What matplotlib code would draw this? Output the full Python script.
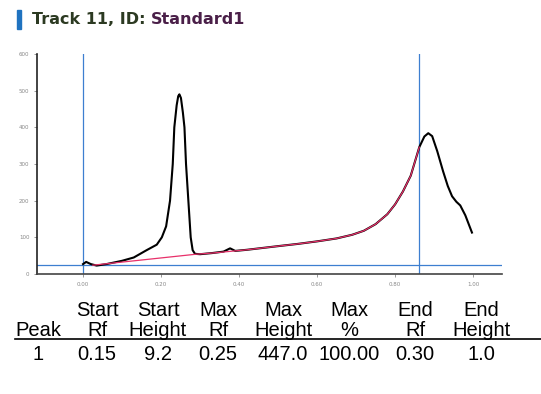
import numpy as np
import matplotlib
matplotlib.use("Agg")
import matplotlib.pyplot as plt
from matplotlib.patches import Rectangle
from matplotlib.lines import Line2D

# densitometer trace (Rf vs height)
rf = [0.00, 0.008, 0.02, 0.035, 0.06, 0.10, 0.13, 0.163, 0.189, 0.202, 0.213, 0.223,
      0.230, 0.234, 0.240, 0.244, 0.247, 0.251, 0.256, 0.260, 0.264, 0.270, 0.276,
      0.281, 0.287, 0.30, 0.33, 0.36, 0.377, 0.39, 0.42, 0.46, 0.50, 0.55, 0.60,
      0.65, 0.69, 0.72, 0.75, 0.78, 0.80, 0.82, 0.84, 0.862, 0.875, 0.885, 0.895,
      0.908, 0.923, 0.935, 0.946, 0.957, 0.967, 0.98, 0.997]
height = [27, 33, 27, 23, 27, 36, 45, 65, 80, 100, 130, 200,
          300, 400, 460, 485, 490, 480, 440, 400, 300, 200, 100,
          65, 55, 54, 57, 61, 70, 63, 66, 71, 76, 82, 89,
          97, 107, 118, 136, 163, 190, 225, 268, 346, 375, 384, 376,
          335, 280, 240, 212, 197, 187, 160, 113]

# baseline (red)
base_rf = [0.025, 0.29, 0.33, 0.36, 0.39, 0.42, 0.46, 0.50, 0.55, 0.60, 0.65, 0.69,
           0.72, 0.75, 0.78, 0.80, 0.82, 0.84, 0.862]
base_h = [24, 54, 57, 60, 63, 66, 71, 76, 82, 89, 97, 107,
          118, 136, 163, 190, 225, 268, 346]

lane_start, lane_end = 0.0, 0.862
threshold = 25

headers1 = ["", "Start", "Start", "Max", "Max", "Max", "End", "End"]
headers2 = ["Peak", "Rf", "Height", "Rf", "Height", "%", "Rf", "Height"]
row = ["1", "0.15", "9.2", "0.25", "447.0", "100.00", "0.30", "1.0"]
col_x = [38, 97, 158, 218, 283, 349, 415, 481]

W, H = 541, 394
fig = plt.figure(figsize=(W / 100, H / 100), dpi=100)
ax = fig.add_axes([37 / W, 1 - 274 / H, (502 - 37) / W, (274 - 54) / H])

blue = "#3d7fd0"
ax.plot(rf, height, color="black", lw=1.5, zorder=3)
ax.plot(base_rf, base_h, color="#e8306a", lw=0.9, zorder=4)
ax.axvline(lane_start, color=blue, lw=0.9, zorder=2)
ax.axvline(lane_end, color=blue, lw=0.9, zorder=2)
ax.axhline(threshold, color=blue, lw=0.9, zorder=2)

ax.set_xlim(-0.118, 1.074)
ax.set_ylim(0, 600)
ax.set_yticks(np.arange(0, 601, 100))
ax.set_xticks(np.arange(0, 1.01, 0.2))
ax.xaxis.set_major_formatter(matplotlib.ticker.FormatStrFormatter("%.2f"))
ax.tick_params(labelsize=4, colors="#888888", length=2, width=0.6)
for s in ["top", "right"]:
    ax.spines[s].set_visible(False)
ax.spines["left"].set_linewidth(1.2)
ax.spines["bottom"].set_linewidth(1.2)
ax.spines["left"].set_color("#222222")
ax.spines["bottom"].set_color("#444444")

# title with blue marker bar
fig.add_artist(Rectangle((17 / W, 1 - 29 / H), 4 / W, 19 / H, color="#1f73c0",
                         transform=fig.transFigure))
t1 = fig.text(32 / W, 1 - 20 / H, "Track 11, ID: ", fontsize=11.5, fontweight="bold",
              family="DejaVu Sans", color="#2c3a22", va="center", ha="left")
fig.canvas.draw()
bb = t1.get_window_extent()
fig.text(bb.x1 / W, 1 - 20 / H, "Standard1", fontsize=11.5, fontweight="bold",
         family="DejaVu Sans", color="#4a1f48", va="center", ha="left")

for x, h1, h2, v in zip(col_x, headers1, headers2, row):
    fig.text(x / W, 1 - 310 / H, h1, fontsize=14.5, family="Liberation Sans", ha="center", va="center")
    fig.text(x / W, 1 - 330 / H, h2, fontsize=14.5, family="Liberation Sans", ha="center", va="center")
    fig.text(x / W, 1 - 354 / H, v, fontsize=14.5, family="Liberation Sans", ha="center", va="center")
fig.add_artist(Line2D([15 / W, 1.0], [1 - 339 / H, 1 - 339 / H], color="black", lw=1.2,
                      transform=fig.transFigure))

fig.savefig("out.png", dpi=100)
